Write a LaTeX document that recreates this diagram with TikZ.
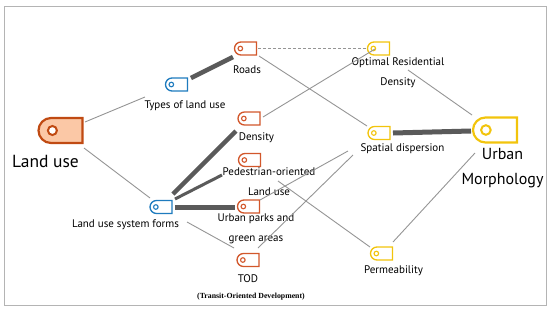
\documentclass[tikz,border=0pt]{standalone}
\usepackage{fontspec}
\setmainfont{PT Sans}
\newfontfamily\serifsm{Liberation Serif}
\usetikzlibrary{shapes.misc}
\definecolor{cor}{HTML}{D2572B}
\definecolor{cblu}{HTML}{1E7BBE}
\definecolor{cyel}{HTML}{F2C40C}
\definecolor{cdark}{HTML}{C04A12}
\definecolor{cfill}{HTML}{FBC8A6}
\definecolor{cline}{HTML}{959595}
\definecolor{cthick}{HTML}{5A5A5A}
\definecolor{cframe}{HTML}{B4B4B4}
\tikzset{
 tagb/.style={rounded rectangle, rounded rectangle right arc=none, draw=#1, line width=1.3pt, fill=white, minimum width=22pt, minimum height=13pt, inner sep=0pt},
 bigtag/.style={rounded rectangle, rounded rectangle right arc=none, draw=#1, line width=2.2pt, minimum width=44pt, minimum height=25pt, inner sep=0pt},
 lab/.style={font=\fontsize{11}{20}\selectfont, text=black, align=center, inner sep=0pt},
 link/.style={draw=cline, line width=0.9pt},
 heavy/.style={draw=cthick, line width=4.5pt},
 ring/.style={draw=#1, line width=1.1pt, fill=white},
}
\newcommand\mytag[3]{\node[tagb=#2] (#1) at (#3) {};
  \draw[ring=#2] ([xshift=6.5pt]#1.west) circle (2.3pt);}
\begin{document}
\begin{tikzpicture}[x=1pt,y=-1pt]
\useasboundingbox (0,0) rectangle (550,311);
\draw[cframe, line width=1pt] (4,6) rectangle (546,305);

% icons
\node[bigtag=cdark, fill=cfill] (lu) at (60.5,130.5) {};
\draw[draw=cdark, line width=2pt, fill=white] ([xshift=15pt]lu.west) circle (4.5pt);
\node[bigtag=cyel, fill=white] (um) at (495,130) {};
\draw[draw=cyel, line width=2pt, fill=white] ([xshift=14pt]um.west) circle (4.8pt);

\mytag{tl}{cblu}{176.5,84.5}
\mytag{lsf}{cblu}{161,207}
\mytag{roads}{cor}{245.5,48.5}
\mytag{dens}{cor}{249,118.5}
\mytag{ped}{cor}{249.5,160}
\mytag{park}{cor}{248.5,206.5}
\mytag{tod}{cor}{248,260}
\mytag{ord}{cyel}{378.5,48.5}
\mytag{sd}{cyel}{379,133}
\mytag{perm}{cyel}{381.5,253.5}

% labels
\node[font=\fontsize{17.5}{20}\selectfont, text=black, inner sep=0pt] (llu) at (45.5,161) {Land use};
\node[font=\fontsize{16}{25}\selectfont, text=black, align=center, inner sep=0pt] (lum) at (502.5,168) {Urban\\Morphology};
\node[lab] (ltl) at (185,106) {Types of land use};
\node[lab] (lroads) at (247,70) {Roads};
\node[lab] (ldens) at (256.5,138) {Density};
\node[lab] (lped) at (269,182) {Pedestrian-oriented\\Land use};
\node[lab] (lpark) at (256,229) {Urban parks and\\green areas};
\node[lab] (ltod) at (248,279) {TOD};
\node[font=\serifsm\bfseries\fontsize{7.8}{9}\selectfont, text=black, inner sep=0pt] (ltodx) at (251,297) {(Transit-Oriented Development)};
\node[lab] (llsf) at (125.5,225) {Land use system forms};
\node[lab] (lord) at (398,73) {Optimal Residential\\Density};
\node[lab] (lsd) at (402.5,149) {Spatial dispersion};
\node[lab] (lperm) at (393.5,271) {Permeability};

% connectors
\draw[link] ([shift={(24.5pt,8.5pt)}]lu.center) -- ([shift={(-40pt,9pt)}]ltl.center);
\draw[link] ([shift={(23.5pt,-17.5pt)}]lu.center) -- ([shift={(-11pt,9pt)}]lsf.center);
\draw[heavy, line width=4.5pt] ([shift={(14.5pt,6.5pt)}]tl.center) -- ([shift={(-12.5pt,-8.5pt)}]roads.center);
\draw[link, dash pattern=on 3pt off 2pt] ([shift={(12.5pt,0.5pt)}]roads.center) -- ([shift={(-12.5pt,0.5pt)}]ord.center);
\draw[link] ([shift={(13.5pt,-7.5pt)}]roads.center) -- ([shift={(-12pt,7pt)}]sd.center);
\draw[link] ([shift={(14pt,1.5pt)}]dens.center) -- ([shift={(-3.5pt,-0.5pt)}]ord.center);
\draw[heavy, line width=4.5pt] ([shift={(12pt,13pt)}]lsf.center) -- ([shift={(-13pt,-12.5pt)}]dens.center);
\draw[heavy, line width=3pt] ([shift={(14pt,8pt)}]lsf.center) -- ([shift={(-27.5pt,-15pt)}]ped.center);
\draw[heavy, line width=5pt] ([shift={(14pt,0pt)}]lsf.center) -- ([shift={(-13.5pt,-0.5pt)}]park.center);
\draw[link] ([shift={(26pt,-15pt)}]lsf.center) -- ([shift={(-14pt,12pt)}]tod.center);
\draw[heavy, line width=5pt] ([shift={(14pt,0pt)}]sd.center) -- ([shift={(-24pt,-1pt)}]um.center);
\draw[link] ([shift={(29.5pt,-21.5pt)}]ord.center) -- ([shift={(-23pt,15pt)}]um.center);
\draw[link] ([shift={(11.5pt,11.5pt)}]perm.center) -- ([shift={(-20pt,-23pt)}]um.center);
\draw[link] ([shift={(28.5pt,-21pt)}]ped.center) -- ([shift={(-11.5pt,6.5pt)}]perm.center);
\draw[link] ([shift={(11.5pt,6.5pt)}]park.center) -- ([shift={(-31pt,-18pt)}]sd.center);
\draw[link] ([shift={(10pt,12pt)}]tod.center) -- ([shift={(-26pt,-22pt)}]sd.center);
\end{tikzpicture}
\end{document}
